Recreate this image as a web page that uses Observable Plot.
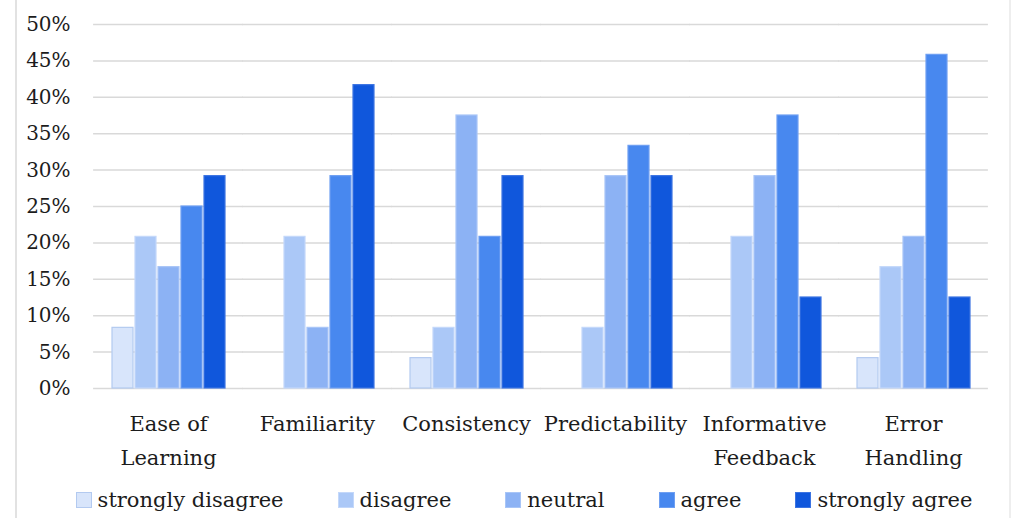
<!DOCTYPE html>
<html>
<head>
<meta charset="utf-8">
<script src="https://cdn.jsdelivr.net/npm/d3@7"></script>
<script src="https://cdn.jsdelivr.net/npm/@observablehq/plot@0.6"></script>
<style>
  html, body { margin: 0; padding: 0; background: #fff; }
  #wrap {
    position: relative;
    width: 1015px; height: 518px;
    font-family: "DejaVu Serif", serif;
    color: #1c1c1c;
  }
  #frame {
    position: absolute; left: 15px; top: 0; width: 996px; height: 518px;
    border-left: 2px solid #e2e2e2; border-right: 2px solid #eeeeee;
    box-sizing: border-box; pointer-events: none;
  }
  #legend {
    position: absolute; left: 0; top: 484px; width: 1015px;
    display: flex; justify-content: center; gap: 54px;
    font-size: 21px; line-height: 32px;
    padding-left: 33px; box-sizing: border-box;
  }
  #legend span.item { display: inline-flex; align-items: center; }
  #legend span.sw { display: inline-block; width: 16px; height: 16px; margin-right: 6px; box-sizing: border-box; }
</style>
</head>
<body>
<div id="wrap">
  <div id="chart"></div>
  <div id="legend"></div>
  <div id="frame"></div>
</div>
<script>
// Survey categories (usability aspects) and response options
const categories = ["Ease of Learning", "Familiarity", "Consistency", "Predictability", "Informative Feedback", "Error Handling"];
const categoryLabels = ["Ease of\nLearning", "Familiarity", "Consistency", "Predictability", "Informative\nFeedback", "Error\nHandling"];
const responses = ["strongly disagree", "disagree", "neutral", "agree", "strongly agree"];
const colors = ["#d8e5fb", "#abc8f7", "#8cb2f4", "#4888ef", "#1057dc"];
const strokes = ["#b3caf0", "#c4d8fa", "#a8c5f7", "#6e9ff2", "#3c74e2"];

// Share of respondents (%) per category, one array per response option
const stronglyDisagree = [8.33, 0, 4.17, 0, 0, 4.17];
const disagree         = [20.83, 20.83, 8.33, 8.33, 20.83, 16.67];
const neutral          = [16.67, 8.33, 37.5, 29.17, 29.17, 20.83];
const agree            = [25, 29.17, 20.83, 33.33, 37.5, 45.83];
const stronglyAgree    = [29.17, 41.67, 29.17, 29.17, 12.5, 12.5];

const yTicks = [0, 5, 10, 15, 20, 25, 30, 35, 40, 45, 50];

const series = [stronglyDisagree, disagree, neutral, agree, stronglyAgree];
const data = [];
categories.forEach((c, i) => {
  responses.forEach((r, j) => {
    data.push({category: c, response: r, value: series[j][i]});
  });
});

const labelOf = new Map(categories.map((c, i) => [c, categoryLabels[i]]));

// Group layout: the inner gap between groups is twice the outer padding,
// so extending every group's gridlines by half a gap joins them up.
const W = 1015, ML = 93, MR = 27;
const fxPadInner = 0.22, fxPadOuter = 0.11;
const fxStep = (W - ML - MR) / (categories.length - fxPadInner + 2 * fxPadOuter);
const halfGap = fxPadOuter * fxStep + 0.5;

const chart = Plot.plot({
  width: W,
  height: 484,
  marginLeft: ML,
  marginRight: MR,
  marginTop: 24,
  marginBottom: 96,
  style: {fontFamily: "'DejaVu Serif', serif", fontSize: "21px", color: "#1c1c1c", background: "transparent"},
  fx: {domain: categories, paddingInner: fxPadInner, paddingOuter: fxPadOuter, label: null},
  x: {domain: responses, paddingInner: 0.09, paddingOuter: 0.06, axis: null},
  y: {domain: [0, 50], label: null},
  color: {domain: responses, range: colors},
  marks: [
    Plot.ruleY(yTicks, {stroke: "#d9d9d9", strokeWidth: 1.5, insetLeft: -halfGap, insetRight: -halfGap}),
    Plot.axisY(yTicks, {tickSize: 0, tickPadding: 23 + halfGap, tickFormat: d => d + "%", label: null, fontSize: 20}),
    Plot.barY(data, {
      fx: "category", x: "response", y: "value",
      fill: "response",
      stroke: d => strokes[responses.indexOf(d.response)],
      strokeWidth: 1.2
    }),
    Plot.axisFx({anchor: "bottom", tickSize: 0, tickPadding: 18, lineHeight: 1.62, label: null, fontSize: 21,
      tickFormat: c => labelOf.get(c)})
  ]
});
document.getElementById("chart").appendChild(chart);

// Legend drawn below the chart
const legend = document.getElementById("legend");
responses.forEach((r, j) => {
  const item = document.createElement("span");
  item.className = "item";
  const sw = document.createElement("span");
  sw.className = "sw";
  sw.style.background = colors[j];
  sw.style.border = "1px solid " + strokes[j];
  item.appendChild(sw);
  item.appendChild(document.createTextNode(r));
  legend.appendChild(item);
});
</script>
</body>
</html>
